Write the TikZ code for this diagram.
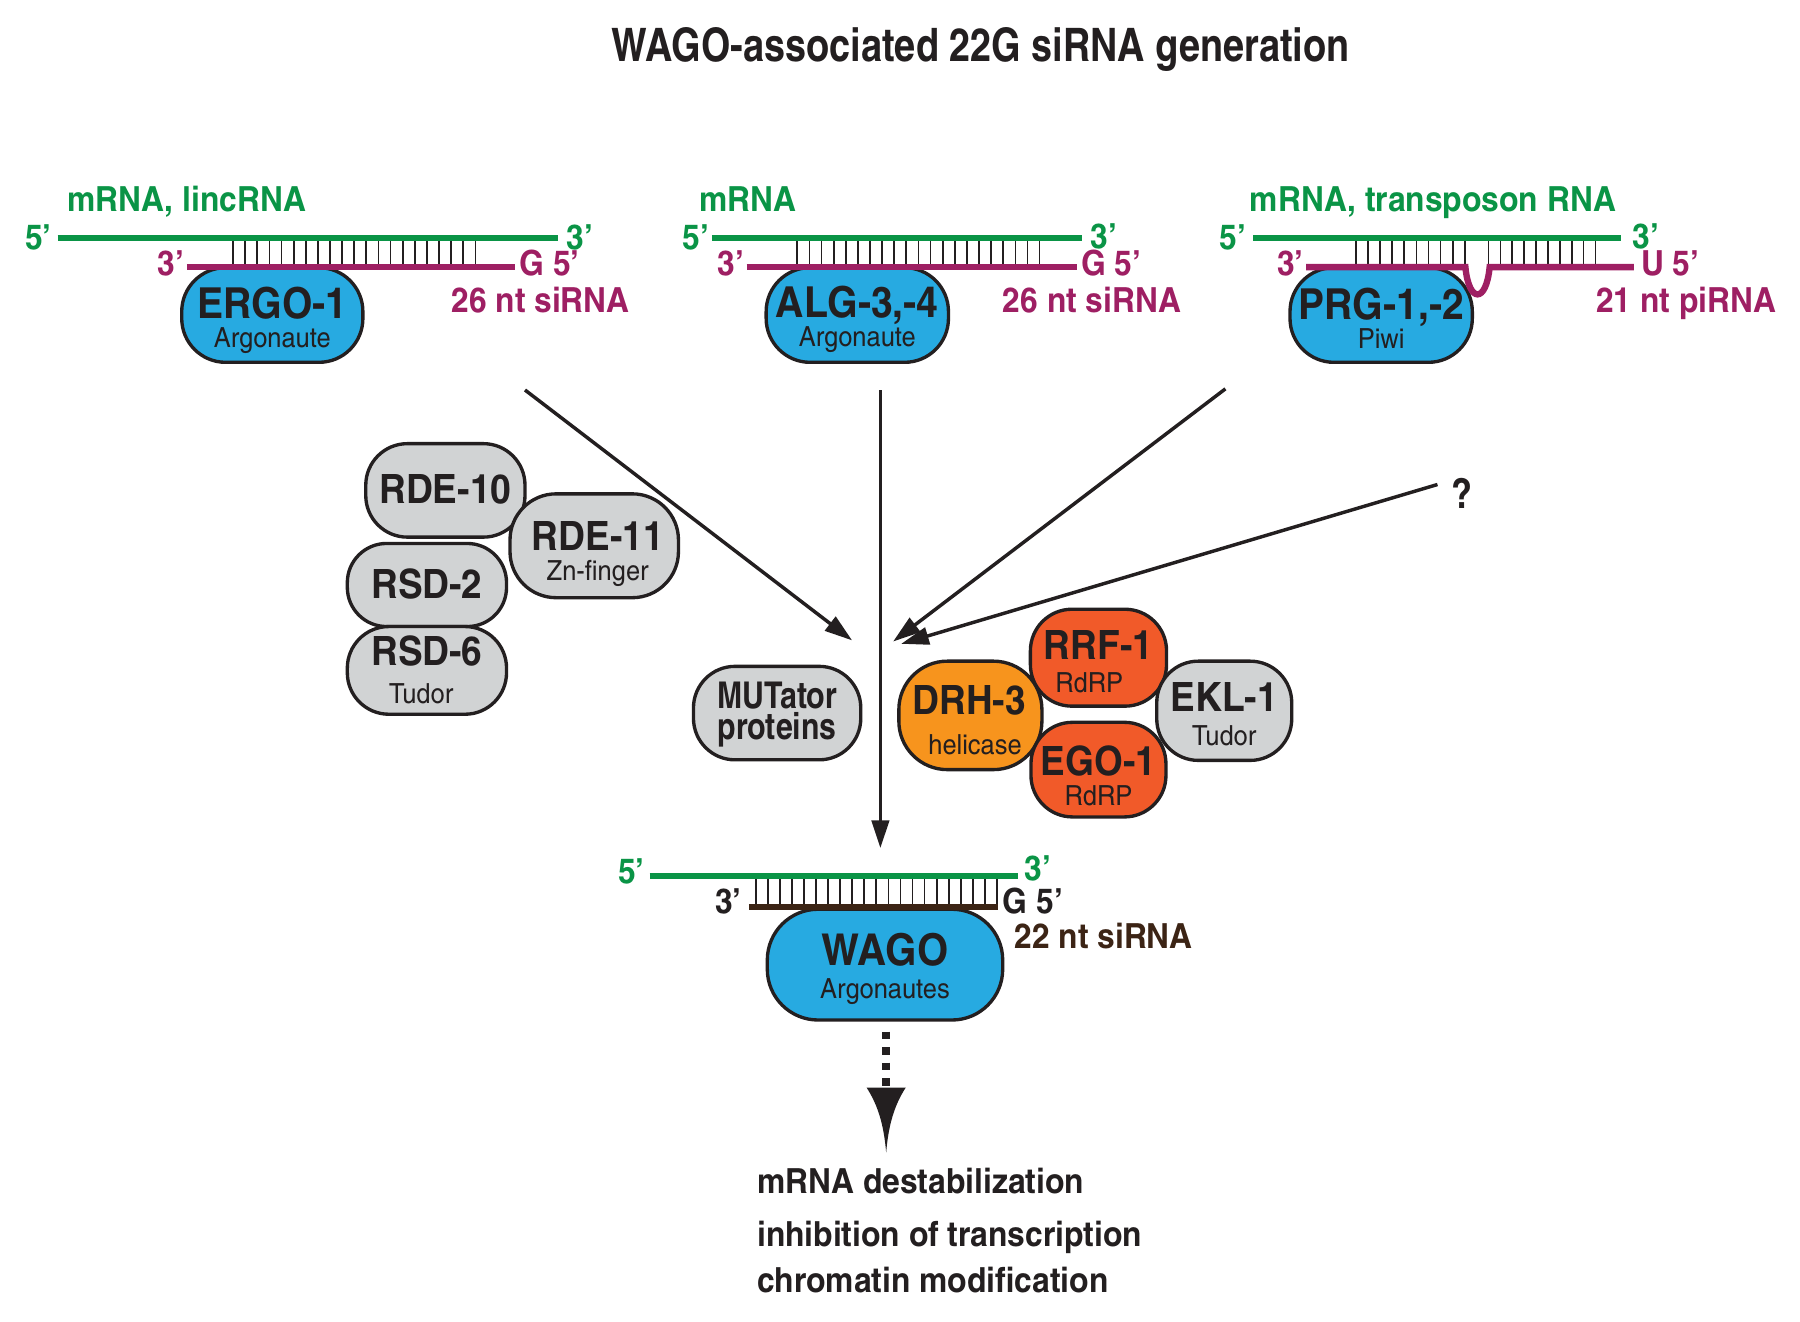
\documentclass[tikz,border=0pt]{standalone}
\usepackage{fontspec}
\setmainfont{texgyreheroscn}[Extension=.otf,UprightFont=*-regular,BoldFont=*-bold,ItalicFont=*-italic,BoldItalicFont=*-bolditalic]
\newfontfamily\widefont{texgyreheroscn}[Extension=.otf,UprightFont=*-regular,BoldFont=*-bold,FakeStretch=1.12]
\usetikzlibrary{arrows.meta,calc}
\definecolor{ink}{HTML}{231F20}
\definecolor{rgreen}{HTML}{0A9446}
\definecolor{rmag}{HTML}{9E1F63}
\definecolor{argblue}{HTML}{27AAE1}
\definecolor{pgray}{HTML}{D1D3D4}
\definecolor{porange}{HTML}{F7941D}
\definecolor{pred}{HTML}{F15A29}
\definecolor{rbrown}{HTML}{3C2415}
\begin{document}
\begin{tikzpicture}[x=1pt,y=-1pt,
  prot/.style={draw=ink, line width=2.9pt, rounded corners=36pt, inner sep=0pt},
  big/.style={anchor=base, font=\widefont\fontsize{35}{35}\selectfont\bfseries, text=ink, inner sep=0pt},
  bigtop/.style={big, font=\widefont\fontsize{37}{37}\selectfont\bfseries},
  sub/.style={anchor=base, font=\widefont\fontsize{24}{24}\selectfont, text=ink, inner sep=0pt},
  lab/.style={anchor=base west, font=\widefont\fontsize{30}{30}\selectfont\bfseries, inner sep=0pt},
  labr/.style={lab, anchor=base east},
  gline/.style={draw=rgreen, line width=5.5pt},
  mline/.style={draw=rmag, line width=5.5pt},
  bline/.style={draw=rbrown, line width=5.5pt},
  tick/.style={draw=ink, line width=1.5pt},
  arr/.style={draw=ink, line width=3pt, -{Triangle[length=24pt,width=15pt]}},
  outtxt/.style={anchor=base west, font=\widefont\fontsize{30}{30}\selectfont\bfseries, text=ink, inner sep=0pt}
]
\useasboundingbox (0,0) rectangle (1560,1145);

% title
\node[anchor=base, font=\fontsize{40}{40}\selectfont\bfseries, text=ink, inner sep=0pt] (title) at (850,53) {WAGO-associated 22G siRNA generation};

% ---------- top Argonaute / Piwi nodes ----------
\node[prot, fill=argblue, minimum width=157pt, minimum height=82pt, rounded corners=38pt] (ergo) at (236,273) {};
\node[bigtop] (ergoT) at ($(ergo.center)+(0,3)$) {ERGO-1};
\node[sub] (ergoS) at ($(ergo.center)+(0,28)$) {Argonaute};

\node[prot, fill=argblue, minimum width=158pt, minimum height=82pt, rounded corners=38pt] (alg) at (743,273) {};
\node[bigtop] (algT) at ($(alg.center)+(0,2)$) {ALG-3,-4};
\node[sub] (algS) at ($(alg.center)+(0,27)$) {Argonaute};

\node[prot, fill=argblue, minimum width=158pt, minimum height=82pt, rounded corners=38pt] (prg) at (1197,273) {};
\node[bigtop] (prgT) at ($(prg.center)+(0,4)$) {PRG-1,-2};
\node[sub] (prgS) at ($(prg.center)+(0,29)$) {Piwi};

% ---------- left panel RNA ----------
\draw[gline] (50,206) -- (484,206);
\foreach \i in {0,...,20} \draw[tick] ({202+10.5*\i},209) -- ({202+10.5*\i},229);
\draw[mline] (162,231.5) -- (446,231.5);
\node[lab, text=rgreen] (lt1) at (58,183) {mRNA, lincRNA};
\node[labr, text=rgreen] (lt2) at (45,216) {5’};
\node[lab, text=rgreen] (lt3) at (491,216) {3’};
\node[labr, text=rmag] (lt4) at (160,239) {3’};
\node[lab, text=rmag] (lt5) at (450,239) {G 5’};
\node[lab, text=rmag] (lt6) at (391,271) {26 nt siRNA};

% ---------- middle panel RNA ----------
\draw[gline] (617,206) -- (938,206);
\foreach \i in {0,...,20} \draw[tick] ({691+10.5*\i},209) -- ({691+10.5*\i},229);
\draw[mline] (647,231.5) -- (933,231.5);
\node[lab, text=rgreen] (mt1) at (606,183) {mRNA};
\node[labr, text=rgreen] (mt2) at (615,216) {5’};
\node[lab, text=rgreen] (mt3) at (945,215) {3’};
\node[labr, text=rmag] (mt4) at (645,239) {3’};
\node[lab, text=rmag] (mt5) at (937,239) {G 5’};
\node[lab, text=rmag] (mt6) at (869,271) {26 nt siRNA};

% ---------- right panel RNA ----------
\draw[gline] (1086,206) -- (1405,206);
\foreach \i in {0,...,9} \draw[tick] ({1175+10.5*\i},209) -- ({1175+10.5*\i},229);
\foreach \i in {0,...,9} \draw[tick] ({1290+10.3*\i},209) -- ({1290+10.3*\i},229);
\draw[mline] (1132,231.5) -- (1270,231.5) .. controls (1273,263) and (1288,263) .. (1291,231.5) -- (1416,231.5);
\node[lab, text=rgreen] (rt1) at (1083,183) {mRNA, transposon RNA};
\node[labr, text=rgreen] (rt2) at (1080,216) {5’};
\node[lab, text=rgreen] (rt3) at (1415,215) {3’};
\node[labr, text=rmag] (rt4) at (1130,239) {3’};
\node[lab, text=rmag] (rt5) at (1422,239) {U 5’};
\node[lab, text=rmag] (rt6) at (1383,271) {21 nt piRNA};

% ---------- left cluster ----------
\node[prot, fill=pgray, minimum width=138pt, minimum height=81pt] (rde10) at (386,425) {};
\node[big] (rde10T) at ($(rde10.center)+(0,11)$) {RDE-10};
\node[prot, fill=pgray, minimum width=138pt, minimum height=72pt, rounded corners=34pt] (rsd2) at (370,507) {};
\node[big] (rsd2T) at ($(rsd2.center)+(0,12)$) {RSD-2};
\node[prot, fill=pgray, minimum width=138pt, minimum height=76pt, rounded corners=36pt] (rsd6) at (370,581) {};
\node[big] (rsd6T) at ($(rsd6.center)+(0,-4)$) {RSD-6};
\node[sub] (rsd6S) at ($(rsd6.center)+(-5,29)$) {Tudor};
\node[prot, fill=pgray, minimum width=146pt, minimum height=90pt, rounded corners=40pt] (rde11) at (515,473) {};
\node[big] (rde11T) at ($(rde11.center)+(3,4)$) {RDE-11};
\node[sub] (rde11S) at ($(rde11.center)+(3,30)$) {Zn-finger};

\node[prot, fill=pgray, minimum width=145pt, minimum height=81pt] (mut) at (673.5,618) {};
\node[big, font=\fontsize{32}{32}\selectfont\bfseries] (mutT) at ($(mut.center)+(0,-4)$) {MUTator};
\node[big, font=\fontsize{32}{32}\selectfont\bfseries] (mutS) at ($(mut.center)+(0,23)$) {proteins};

% ---------- right cluster ----------
\node[prot, fill=porange, minimum width=124pt, minimum height=94pt, rounded corners=42pt] (drh) at (841,620) {};
\node[big] (drhT) at ($(drh.center)+(-1,-0.8)$) {DRH-3};
\node[sub] (drhS) at ($(drh.center)+(4,34)$) {helicase};
\node[prot, fill=pred, minimum width=117pt, minimum height=82pt] (ego) at (952,667) {};
\node[big] (egoT) at ($(ego.center)+(0,5)$) {EGO-1};
\node[sub] (egoS) at ($(ego.center)+(0,31)$) {RdRP};
\node[prot, fill=pred, minimum width=118pt, minimum height=84pt] (rrf) at (952,570) {};
\node[big] (rrfT) at ($(rrf.center)+(0,1.4)$) {RRF-1};
\node[sub] (rrfS) at ($(rrf.center)+(-8,30.4)$) {RdRP};
\node[prot, fill=pgray, minimum width=117pt, minimum height=86pt] (ekl) at (1061,616) {};
\node[big] (eklT) at ($(ekl.center)+(0,1)$) {EKL-1};
\node[sub] (eklS) at ($(ekl.center)+(0,30)$) {Tudor};

% ---------- arrows ----------
\node[anchor=base, font=\fontsize{36}{36}\selectfont\bfseries, text=ink, inner sep=0pt] (q) at (1267,441) {?};
\coordinate (a1s) at (455,338);
\coordinate (hubL) at (738.5,555);
\coordinate (a2s) at (763,338);
\coordinate (a2e) at (763,735);
\coordinate (a3s) at (1062,337);
\coordinate (hubR) at (774,556);
\coordinate (a4s) at ($(q.west)+(-12,-8)$);
\coordinate (hubQ) at (781,558);
\draw[arr] (a1s) -- (hubL);
\draw[arr] (a2s) -- (a2e);
\draw[arr] (a3s) -- (hubR);
\draw[arr] (a4s) -- (hubQ);

% ---------- bottom WAGO ----------
\node[prot, fill=argblue, minimum width=204pt, minimum height=96pt, rounded corners=44pt] (wago) at (767,836) {};
\node[big, font=\widefont\fontsize{38}{38}\selectfont\bfseries] (wagoT) at ($(wago.center)+(0,0.5)$) {WAGO};
\node[sub] (wagoS) at ($(wago.center)+(0,29.5)$) {Argonautes};

\draw[gline] (563,759) -- (882,759);
\foreach \i in {0,...,20} \draw[tick] ({655+10.45*\i},762) -- ({655+10.45*\i},785);
\draw[bline] (649,786) -- (865,786);
\node[labr, text=rgreen] (bt1) at (559,766) {5’};
\node[lab, text=rgreen] (bt2) at (888,763) {3’};
\node[labr, text=ink] (bt3) at (643,792) {3’};
\node[lab, text=ink] (bt4) at (869,792) {G 5’};
\node[lab, text=rbrown] (bt5) at (879,822) {22 nt siRNA};

% dotted arrow
\coordinate (d0) at (768,894);
\coordinate (d1) at (768,941.5);
\draw[draw=ink, line width=6.6pt, dash pattern=on 6.7pt off 6.8pt] (d0) -- (d1);
\fill[ink] (751,942.5) -- (785,942.5) .. controls (775,958) and (770,975) .. (768,999) .. controls (766,975) and (761,958) .. (751,942.5) -- cycle;

% outcome texts
\node[outtxt] (o1) at (656,1034) {mRNA destabilization};
\node[outtxt] (o2) at (656,1080) {inhibition of transcription};
\node[outtxt] (o3) at (656,1120) {chromatin modification};
\end{tikzpicture}
\end{document}
